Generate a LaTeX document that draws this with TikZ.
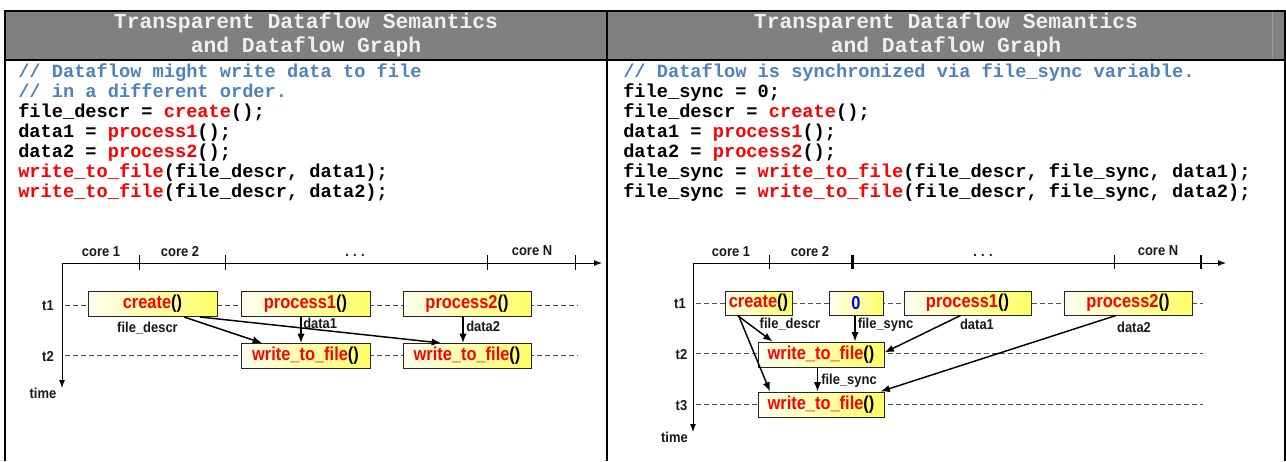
\documentclass[tikz,border=0pt]{standalone}
\usepackage{fontspec}
\usepackage{graphicx}
\setmainfont{Liberation Sans}
\newfontfamily\codefont{Liberation Mono}
\usetikzlibrary{arrows.meta,calc,shadows}
\definecolor{hdrgray}{HTML}{808080}
\definecolor{hdrline}{HTML}{9C9C9C}
\definecolor{cmtblue}{HTML}{4F81BD}
\definecolor{kred}{HTML}{FF0000}
\definecolor{kblue}{HTML}{0000FF}
\definecolor{ylight}{HTML}{FFFFF0}
\definecolor{ydark}{HTML}{FFFF66}
\definecolor{dashgray}{HTML}{505050}
\definecolor{titlewhite}{HTML}{F0F0F0}
\newcommand{\rd}[1]{\textcolor{kred}{#1}}
\newcommand{\cmt}[1]{\textcolor{cmtblue}{#1}}
\newcommand{\bxtext}[1]{\scalebox{0.88}[1]{#1}}
\newcommand{\lbtext}[1]{\scalebox{0.9}[1]{#1}}
\begin{document}
\begin{tikzpicture}[x=0.75pt,y=-0.75pt,
  codeline/.style={anchor=base west, inner sep=0pt, font=\codefont\bfseries\fontsize{14}{15}\selectfont},
  titleline/.style={anchor=base, inner sep=0pt, text=titlewhite, font=\codefont\bfseries\fontsize{16}{17}\selectfont},
  lbl/.style={anchor=base, inner sep=0pt, font=\bfseries\fontsize{10.8}{12}\selectfont, text=black!90},
  lblw/.style={lbl, anchor=base west},
  box/.style={draw=black!85, line width=0.75pt, left color=ylight, right color=ydark,
     minimum height=18.75pt, inner sep=0pt, font=\bfseries\fontsize{14}{16}\selectfont,
     drop shadow={shadow xshift=0.7pt, shadow yshift=-0.7pt, fill=black!45, opacity=1}},
  dashgrid/.style={draw=dashgray, line width=0.75pt, dash pattern=on 3.5pt off 2.5pt},
  axisline/.style={line width=0.75pt, -{Latex[length=6pt,width=4.5pt]}},
  tickthin/.style={line width=0.75pt},
  tickthick/.style={line width=1.6pt},
  arr/.style={line width=1.1pt, -{Latex[length=7pt,width=5.5pt]}}
]
\useasboundingbox (0,0) rectangle (1286,461);
% ---------- table frame ----------
\fill[hdrgray] (5,11) rectangle (1285,60);
\draw[hdrline, line width=0.75pt] (1272,11) -- (1272,60);
\draw[line width=1.5pt] (5,461) -- (5,11) -- (1285,11) -- (1285,461);
\draw[line width=1.5pt] (5,60) -- (1285,60);
\draw[line width=1.5pt] (607,11) -- (607,461);
% ---------- titles ----------
\node[titleline] (tL1) at (306,28.5) {Transparent Dataflow Semantics};
\node[titleline] (tL2) at (306,52.5) {and Dataflow Graph};
\node[titleline] (tR1) at (946,28.5) {Transparent Dataflow Semantics};
\node[titleline] (tR2) at (946,52.5) {and Dataflow Graph};
% ---------- code left ----------
\node[codeline] (cl1) at (18,77) {\cmt{// Dataflow might write data to file}};
\node[codeline] (cl2) at (18,97) {\cmt{// in a different order.}};
\node[codeline] (cl3) at (18,117) {file\_descr = \rd{create}();};
\node[codeline] (cl4) at (18,137) {data1 = \rd{process1}();};
\node[codeline] (cl5) at (18,157) {data2 = \rd{process2}();};
\node[codeline] (cl6) at (18,177) {\rd{write\_to\_file}(file\_descr, data1);};
\node[codeline] (cl7) at (18,197) {\rd{write\_to\_file}(file\_descr, data2);};
% ---------- code right ----------
\node[codeline] (cr1) at (623,77) {\cmt{// Dataflow is synchronized via file\_sync variable.}};
\node[codeline] (cr2) at (623,97) {file\_sync = 0;};
\node[codeline] (cr3) at (623,117) {file\_descr = \rd{create}();};
\node[codeline] (cr4) at (623,137) {data1 = \rd{process1}();};
\node[codeline] (cr5) at (623,157) {data2 = \rd{process2}();};
\node[codeline] (cr6) at (623,177) {file\_sync = \rd{write\_to\_file}(file\_descr, file\_sync, data1);};
\node[codeline] (cr7) at (623,197) {file\_sync = \rd{write\_to\_file}(file\_descr, file\_sync, data2);};

% =============== LEFT DIAGRAM ===============
\coordinate (oL) at (62,263);
\coordinate (xL) at (602,263);
\coordinate (yL) at (62,388);
\draw[dashgrid] (65,305) -- (578,305);
\draw[dashgrid] (65,355) -- (578,355);
\draw[axisline] (oL) -- (xL);
\draw[axisline] (oL) -- (yL);
\foreach \tx in {139,225,487,575} \draw[tickthin] (\tx,255) -- (\tx,270);
\node[lbl] (k1L) at (101,256) {\lbtext{core 1}};
\node[lbl] (k2L) at (180,256) {\lbtext{core 2}};
\node[lbl] (kdL) at (355,256) {\lbtext{.\,\,.\,\,.}};
\node[lbl] (kNL) at (532,255) {\lbtext{core N}};
\node[lbl] (t1L) at (48,310) {\lbtext{t1}};
\node[lbl] (t2L) at (48,361) {\lbtext{t2}};
\node[lbl] (tmL) at (43,398) {\lbtext{time}};
\node[box, minimum width=96.75pt] (cL)  at (152.5,304) {\bxtext{\rd{create}()}};
\node[box, minimum width=96.75pt] (p1L) at (305.5,304) {\bxtext{\rd{process1}()}};
\node[box, minimum width=96pt]    (p2L) at (467,304)   {\bxtext{\rd{process2}()}};
\node[box, minimum width=96.75pt] (w1L) at (305.5,356) {\bxtext{\rd{write\_to\_file}()}};
\node[box, minimum width=96pt]    (w2L) at (467,356)   {\bxtext{\rd{write\_to\_file}()}};
\node[lbl]  (fdL) at (147.5,332) {\lbtext{file\_descr}};
\node[lblw] (d1L) at (303,328.5) {\lbtext{data1}};
\node[lblw] (d2L) at (466,331) {\lbtext{data2}};
\draw[arr] ($(cL.south)+(31.5,0)$) -- ($(w1L.north)+(-43.5,0)$);
\draw[arr] ($(cL.south)+(47.5,0)$) -- ($(w2L.north)+(-26,0)$);
\draw[arr] ($(p1L.south)+(-4.5,0)$) -- ($(w1L.north)+(-4.5,0)$);
\draw[arr] ($(p2L.south)+(-4,0)$) -- ($(w2L.north)+(-4,0)$);

% =============== RIGHT DIAGRAM ===============
\coordinate (oR) at (693,263);
\coordinate (xR) at (1226,263);
\coordinate (yR) at (693,432);
\draw[dashgrid] (696,303) -- (1203,303);
\draw[dashgrid] (696,353.5) -- (1203,353.5);
\draw[dashgrid] (696,404) -- (1203,404);
\draw[axisline] (oR) -- (xR);
\draw[axisline] (oR) -- (yR);
\draw[tickthin] (769,255) -- (769,269);
\draw[tickthick] (852.5,255) -- (852.5,269);
\draw[tickthin] (1114,255) -- (1114,269);
\draw[tickthick] (1201,255) -- (1201,269);
\node[lbl] (k1R) at (731,256) {\lbtext{core 1}};
\node[lbl] (k2R) at (810,256) {\lbtext{core 2}};
\node[lbl] (kdR) at (983,256) {\lbtext{.\,\,.\,\,.}};
\node[lbl] (kNR) at (1158,255) {\lbtext{core N}};
\node[lbl] (t1R) at (680,308) {\lbtext{t1}};
\node[lbl] (t2R) at (681.5,359) {\lbtext{t2}};
\node[lbl] (t3R) at (681.5,410) {\lbtext{t3}};
\node[lbl] (tmR) at (674.5,442) {\lbtext{time}};
\node[box, minimum width=50.25pt, minimum height=18pt] (cR)  at (758.5,303) {\bxtext{\rd{create}()}};
\node[box, minimum width=40.5pt, minimum height=18pt]  (zR)  at (856,303)   {\bxtext{\textcolor{kblue}{0}}};
\node[box, minimum width=95.25pt, minimum height=18pt] (p1R) at (967.5,303) {\bxtext{\rd{process1}()}};
\node[box, minimum width=96pt, minimum height=18pt]    (p2R) at (1128,303)  {\bxtext{\rd{process2}()}};
\node[box, minimum width=94.5pt] (w1R) at (821,354.5) {\bxtext{\rd{write\_to\_file}()}};
\node[box, minimum width=94.5pt] (w2R) at (821,404.5) {\bxtext{\rd{write\_to\_file}()}};
\node[lbl]  (fdR) at (790,328) {\lbtext{file\_descr}};
\node[lblw] (fs1R) at (857.5,328) {\lbtext{file\_sync}};
\node[lbl]  (d1R) at (977,329) {\lbtext{data1}};
\node[lbl]  (d2R) at (1134,332) {\lbtext{data2}};
\node[lblw] (fs2R) at (821,384) {\lbtext{file\_sync}};
\draw[arr] ($(cR.south)+(-21,0)$) -- ($(w1R.north)+(-48.5,0)$);
\draw[arr] ($(cR.south)+(-20,0)$) -- ($(w2R.north)+(-51,0)$);
\draw[arr] ($(zR.south)+(-1,0)$) -- ($(w1R.north)+(34,0)$);
\draw[arr] ($(w1R.south)+(-3.5,0)$) -- ($(w2R.north)+(-3.5,0)$);
\draw[arr] ($(p1R.south)+(-7,0)$) -- ($(w1R.east)+(0,-2)$);
\draw[arr] ($(p2R.south)+(-12,0)$) -- ($(w2R.north east)+(-4,0)$);
\end{tikzpicture}
\end{document}
